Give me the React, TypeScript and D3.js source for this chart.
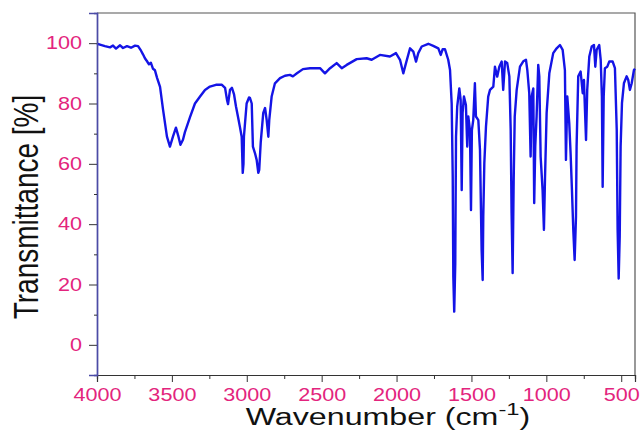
import React, { useEffect, useRef } from 'react'
import * as d3 from 'd3'

// IR spectrum: wavenumber (cm-1) and transmittance (%)
const wavenumbers = [
  4000, 3980, 3947, 3913, 3893, 3873, 3846, 3826, 3800, 3773, 3746, 3726, 3706, 3693, 3680, 3666,
  3653, 3640, 3626, 3613, 3599, 3579, 3559, 3533, 3513, 3493, 3473, 3456, 3443, 3426, 3413, 3379,
  3346, 3312, 3279, 3246, 3206, 3166, 3145, 3132, 3125, 3112, 3099, 3085, 3072, 3059, 3045, 3034,
  3027, 3022, 3019, 3001, 2985, 2979, 2967, 2959, 2945, 2934, 2923, 2917, 2907, 2890, 2878, 2867,
  2856, 2850, 2834, 2812, 2778, 2745, 2712, 2692, 2665, 2625, 2578, 2511, 2478, 2444, 2400, 2366,
  2333, 2266, 2200, 2166, 2111, 2044, 2004, 1977, 1955, 1937, 1910, 1888, 1870, 1855, 1832, 1788,
  1755, 1721, 1705, 1692, 1677, 1655, 1643, 1632, 1625, 1621, 1615, 1608, 1603, 1595, 1581, 1572,
  1565, 1559, 1550, 1537, 1528, 1521, 1510, 1503, 1497, 1488, 1477, 1470, 1454, 1443, 1432, 1425,
  1421, 1414, 1403, 1388, 1376, 1354, 1343, 1328, 1314, 1298, 1288, 1276, 1261, 1247, 1238, 1232,
  1225, 1218, 1211, 1198, 1176, 1154, 1136, 1127, 1114, 1105, 1098, 1087, 1081, 1074, 1065, 1054,
  1047, 1038, 1025, 1016, 1009, 998, 980, 954, 931, 909, 891, 876, 869, 860, 847, 838,
  829, 820, 811, 802, 798, 787, 771, 757, 749, 735, 727, 713, 697, 682, 673, 664,
  647, 637, 629, 624, 617, 609, 593, 580, 557, 542, 530, 524, 517, 510, 504, 495,
  482, 464, 453, 442, 430, 415, 408
]
const transmittance = [
  99.8, 99.5, 99.0, 98.6, 99.2, 98.2, 99.3, 98.4, 99.0, 98.5, 99.2, 99.0, 97.5, 96.3, 95.0, 94.0,
  93.0, 93.5, 91.5, 91.0, 88.5, 85.5, 78, 69, 65.7, 69, 72, 69, 66.3, 68, 70.5, 75.5,
  80, 82.3, 84.5, 85.6, 86.2, 86.2, 85.2, 81.2, 79.8, 84.5, 85.2, 83, 79, 75.7, 72, 69,
  57, 60, 69, 80, 82, 81.9, 80, 65.7, 63.5, 61.3, 57, 58, 67, 76.9, 78.5, 74.5,
  69, 74.5, 82.3, 86.7, 88.4, 89.2, 89.5, 89, 90, 91.4, 91.7, 91.7, 90, 91.7, 93.4, 91.7,
  92.8, 94.7, 95, 94.5, 96.1, 95.6, 96.7, 94.5, 90, 93.4, 98.3, 97.2, 93.9, 96.7, 98.9, 99.8,
  99.1, 98.3, 96.1, 98, 98, 94.5, 91.1, 80, 55.8, 22.6, 11, 27, 69, 79, 85, 81.2,
  51.3, 76.9, 82.3, 79.5, 65.7, 75.7, 71.2, 44.7, 71.2, 74.5, 86.7, 75.7, 74.5, 64.6, 31.4, 21.5,
  42.5, 60.2, 72.3, 82.3, 84.5, 85.6, 92.2, 88.9, 92.2, 93.9, 84.5, 93.9, 93.4, 89, 71.2, 43.7,
  23.8, 54.7, 75.7, 84.5, 92.2, 94, 94.5, 91.1, 83.4, 62.4, 82.3, 85, 47, 65.7, 75.7, 92.8,
  89, 62.4, 51.3, 38.1, 55, 76.9, 90, 96.7, 98.3, 99.4, 97.8, 91.1, 61.3, 82.3, 73.5, 63.5,
  51.3, 38.1, 28.1, 42.5, 65.7, 89, 90.6, 83.4, 87.8, 67.9, 84.5, 95.6, 98.9, 99.4, 92.2, 97.8,
  99.4, 94.5, 82.3, 52.4, 82.3, 91.7, 92.2, 93.9, 93.9, 91.7, 71.2, 38.1, 22, 35.9, 65.7, 80.1,
  86.7, 89, 87.8, 84.5, 86.7, 91.1, 91.5
]

const xTicks = [4000, 3500, 3000, 2500, 2000, 1500, 1000, 500]
const xMinorTicks = [3750, 3250, 2750, 2250, 1750, 1250, 750]
const yTicks = [0, 20, 40, 60, 80, 100]
const yMinorTicks = [10, 30, 50, 70, 90]

const W = 641
const H = 435
const margin = { top: 13, right: 6, bottom: 60, left: 97 }
const labelColor = '#e3247d'
const font = 'Arial, "Liberation Sans", sans-serif'

export default function App () {
  const ref = useRef<SVGSVGElement>(null)

  useEffect(() => {
    const svg = d3.select(ref.current)
    svg.selectAll('*').remove()

    const x = d3.scaleLinear().domain([4000, 408]).range([margin.left, W - margin.right])
    const y = d3.scaleLinear().domain([-10, 110]).range([H - margin.bottom, margin.top])

    svg.append('rect').attr('width', W).attr('height', H).attr('fill', '#fff')

    // frame top/right
    svg.append('path')
      .attr('d', `M${x(4000)},${y(110)}H${x(408)}V${y(-10)}`)
      .attr('fill', 'none').attr('stroke', '#555').attr('stroke-width', 1.2)

    // spectrum
    const line = d3.line<number>()
      .x((d, i) => x(wavenumbers[i]))
      .y(d => y(d))
    svg.append('path')
      .datum(transmittance)
      .attr('d', line)
      .attr('fill', 'none')
      .attr('stroke', '#1414e6')
      .attr('stroke-width', 2.4)
      .attr('stroke-linejoin', 'round')

    // x axis
    const gx = svg.append('g').attr('transform', `translate(0,${y(-10)})`)
    gx.call(d3.axisBottom(x).tickValues(xTicks).tickSize(7).tickPadding(6).tickFormat(d3.format('d')))
    gx.append('g').call(d3.axisBottom(x).tickValues(xMinorTicks).tickSize(4).tickFormat(() => ''))
    gx.selectAll('.domain').attr('stroke', '#333').attr('stroke-width', 1.2)
    gx.selectAll('.tick line').attr('stroke', '#333')
    gx.selectAll('.tick text')
      .attr('fill', labelColor)
      .attr('font-size', 18)
      .attr('font-family', font)
      .attr('transform', 'scale(1.2,1)')

    // y axis
    const gy = svg.append('g').attr('transform', `translate(${x(4000)},0)`)
    gy.call(d3.axisLeft(y).tickValues(yTicks).tickSize(8).tickFormat(d3.format('d')))
    gy.append('g').call(d3.axisLeft(y).tickValues(yMinorTicks).tickSize(3).tickFormat(() => ''))
    gy.selectAll('.domain').attr('stroke', '#4b4ba6').attr('stroke-width', 1.4)
    gy.selectAll('.tick line').attr('stroke', '#333')
    gy.selectAll('.tick text')
      .attr('fill', labelColor)
      .attr('font-size', 18)
      .attr('font-family', font)
      .attr('x', -15 / 1.2)
      .attr('transform', 'scale(1.2,1)')

    // axis titles
    svg.append('g')
      .attr('transform', 'translate(38,207) scale(1.25,1) rotate(-90)')
      .append('text')
      .attr('text-anchor', 'middle')
      .attr('font-family', font)
      .attr('font-size', 28)
      .attr('fill', '#111')
      .text('Transmittance [%]')

    const xt = svg.append('g')
      .attr('transform', 'translate(388,425) scale(1.4,1)')
      .append('text')
      .attr('text-anchor', 'middle')
      .attr('font-family', font)
      .attr('font-size', 23)
      .attr('fill', '#111')
    xt.append('tspan').text('Wavenumber (cm')
    xt.append('tspan').attr('dy', -10).attr('font-size', 17).text('-1')
    xt.append('tspan').attr('dy', 10).text(')')
  }, [])

  return (
    <svg ref={ref} width={W} height={H} style={{ position: 'absolute', left: 0, top: 0 }} />
  )
}
